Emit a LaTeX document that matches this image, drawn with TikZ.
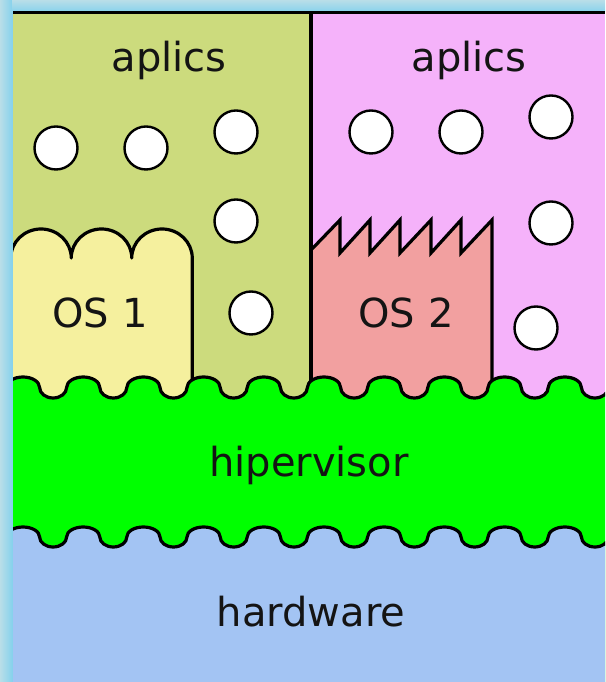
\documentclass[tikz,border=0pt]{standalone}
\usepackage{fontspec}
\setmainfont{DejaVu Sans}
\definecolor{bgcyan}{RGB}{135,210,236}
\definecolor{bgpale}{RGB}{185,222,232}
\definecolor{vmolive}{RGB}{204,219,125}
\definecolor{vmpink}{RGB}{245,178,250}
\definecolor{osyellow}{RGB}{245,240,158}
\definecolor{osred}{RGB}{242,160,160}
\definecolor{hvgreen}{RGB}{0,255,0}
\definecolor{hwblue}{RGB}{163,196,243}
\tikzset{
  edge/.style={draw=black, line width=3.2},
  ball/.style={fill=white, draw=black, line width=2.4},
  lbl/.style={font=\fontsize{40}{48}\selectfont, anchor=base, inner sep=0pt, text=black!92},
}
\newcommand\wavepath[1]{%
  \foreach \i in {0,...,9} {
    arc[start angle=180,end angle=0,x radius=16.6,y radius=#1]
    arc[start angle=180,end angle=360,x radius=13.5,y radius=#1]
  }}
\begin{document}
\begin{tikzpicture}[x=1pt,y=1pt, line join=round]
\useasboundingbox (0,0) rectangle (605,682);
\fill[bgcyan] (0,0) rectangle (605,682);
\shade[left color=bgpale, right color=bgcyan] (0,0) rectangle (12,682);
\shade[top color=bgpale, bottom color=bgcyan] (12,670) rectangle (605,682);
\begin{scope}
  \clip (13,0) rectangle (605,669.5);
  % virtual machine areas
  \fill[vmolive] (13,250) rectangle (311,670);
  \fill[vmpink] (311,250) rectangle (605,670);
  % OS 1
  \filldraw[edge, fill=osyellow] (10.75,250) -- (10.75,424)
     arc[start angle=180,end angle=0,x radius=30.25,y radius=29]
     arc[start angle=180,end angle=0,x radius=30.25,y radius=29]
     arc[start angle=180,end angle=0,x radius=30.25,y radius=29]
     -- (192.25,250) -- cycle;
  % OS 2
  \filldraw[edge, fill=osred, line join=miter] (311,250) -- (311,432)
     -- (340,462) -- (340,429) -- (370,462) -- (370,429)
     -- (400,462) -- (400,429) -- (431,462) -- (431,429)
     -- (461,462) -- (461,429) -- (492,462) -- (492,250) -- cycle;
  % divider between the two machines
  \draw[edge] (311,250) -- (311,672);
  % hypervisor
  \fill[hvgreen] (6.4,294.5) \wavepath{10.5} -- (620,0) -- (0,0) -- cycle;
  % hardware
  \fill[hwblue] (6.4,145) \wavepath{10} -- (620,0) -- (0,0) -- cycle;
  \draw[edge] (6.4,294.5) \wavepath{10.5};
  \draw[edge] (6.4,145) \wavepath{10};
\end{scope}
\draw[edge] (13,669.5) -- (605,669.5);
% applications
\foreach \p in {(56,534),(146,534),(236,550),(236,461),(251,369),
                (371,550),(461,550),(551,565),(551,459),(536,354)}
  \draw[ball] \p circle[radius=21.5];
% labels
\node[lbl] (apl1) at (169,610) {aplics};
\node[lbl] (apl2) at (469,610) {aplics};
\node[lbl] (os1) at (100,354) {OS 1};
\node[lbl] (os2) at (406,354) {OS 2};
\node[lbl] (hv) at (309,205) {hipervisor};
\node[lbl] (hw) at (311,55) {hardware};
\end{tikzpicture}
\end{document}
